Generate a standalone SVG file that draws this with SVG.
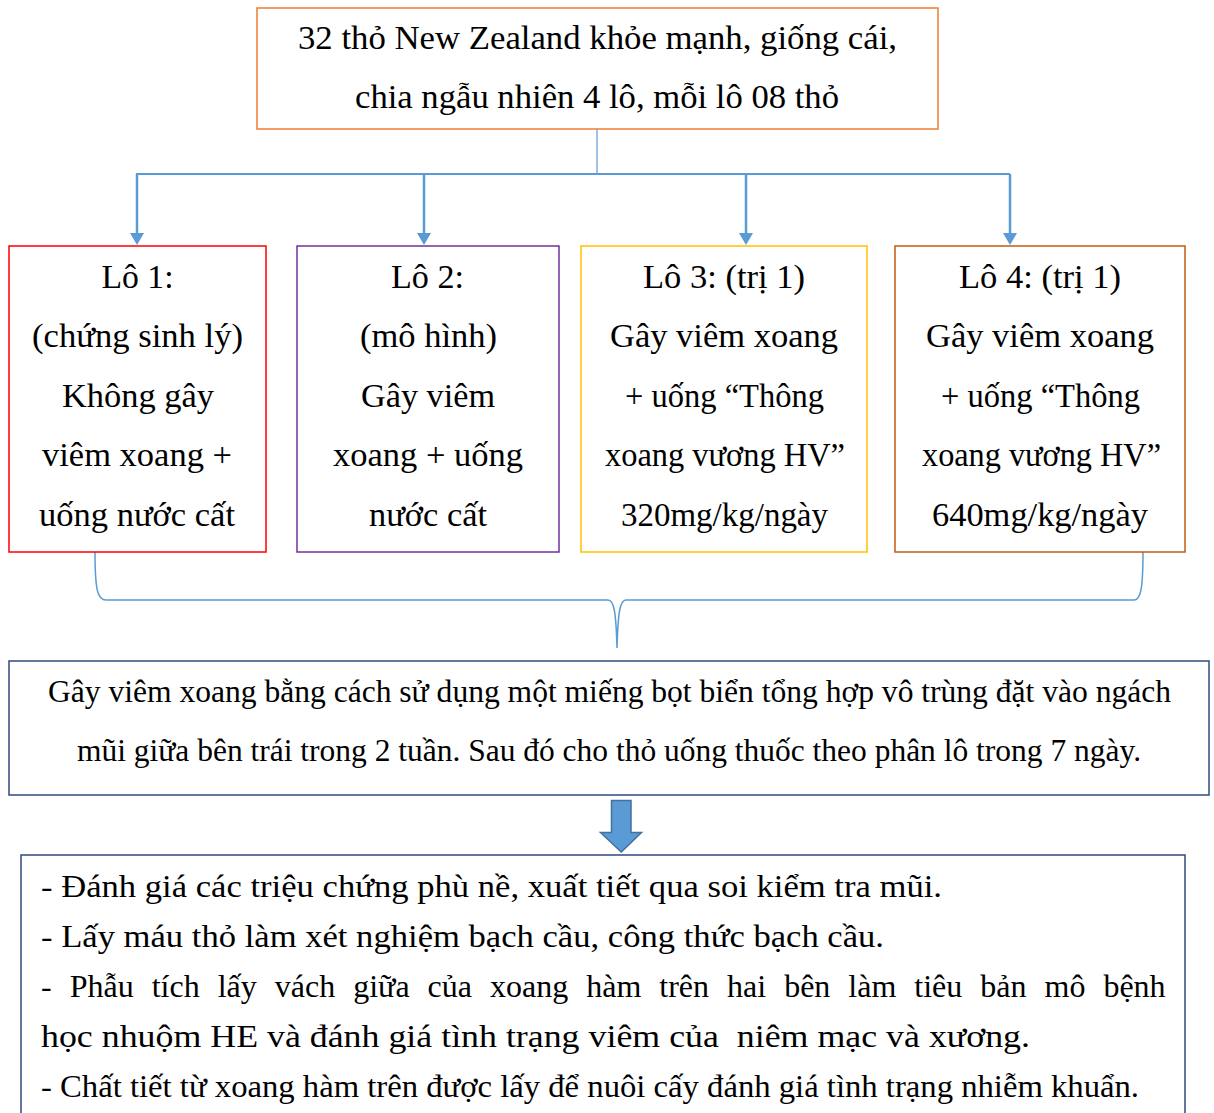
<svg xmlns="http://www.w3.org/2000/svg" width="1214" height="1113" viewBox="0 0 1214 1113">
<defs>
<style>
text{font-family:"Liberation Serif","Times New Roman",serif;font-size:32px;fill:#000}
.c{text-anchor:middle}
.b{font-size:33px}
.box{fill:#fff;stroke-width:1.5}
.conn{fill:none;stroke:#5B9BD5;stroke-width:2.5}
</style>
</defs>
<rect width="1214" height="1113" fill="#fff"/>

<g id="connectors">
<line x1="597" y1="129" x2="597" y2="174" stroke="#5B9BD5" stroke-width="1.2"/>
<line x1="136" y1="174" x2="1010" y2="174" stroke="#5B9BD5" stroke-width="2"/>
<line class="conn" x1="137" y1="174" x2="137" y2="233"/>
<path d="M130,233 L144,233 L137,245 Z" fill="#5B9BD5"/>
<line class="conn" x1="424" y1="174" x2="424" y2="233"/>
<path d="M417,233 L431,233 L424,245 Z" fill="#5B9BD5"/>
<line class="conn" x1="746" y1="174" x2="746" y2="233"/>
<path d="M739,233 L753,233 L746,245 Z" fill="#5B9BD5"/>
<line class="conn" x1="1010" y1="174" x2="1010" y2="233"/>
<path d="M1003,233 L1017,233 L1010,245 Z" fill="#5B9BD5"/>
<path d="M95,552 C95,592 98,600 106,600 L608,600 C614,600 616,612 617,648 C618,612 620,600 626,600 L1134,600 C1140,600 1143,592 1143,552" fill="none" stroke="#5B9BD5" stroke-width="1.5"/>
<path d="M611.5,800.5 L631,800.5 L631,832.5 L641.5,832.5 L621.3,852 L600.5,832.5 L611.5,832.5 Z" fill="#5B9BD5" stroke="#41719C" stroke-width="1.5"/>
</g>

<g id="node-top">
<rect class="box" x="257" y="8" width="681" height="121" stroke="#ED7D31"/>
<text class="c b" x="597.5" y="49" textLength="599" lengthAdjust="spacingAndGlyphs">32 thỏ New Zealand khỏe mạnh, giống cái,</text>
<text class="c b" x="597" y="108" textLength="484" lengthAdjust="spacingAndGlyphs">chia ngẫu nhiên 4 lô, mỗi lô 08 thỏ</text>
</g>

<g id="node-lo1">
<rect class="box" x="9" y="246" width="257" height="306" stroke="#FF0000"/>
<text class="c b" x="137.5" y="288" textLength="72" lengthAdjust="spacingAndGlyphs">Lô 1:</text>
<text class="c b" x="137.5" y="347" textLength="211" lengthAdjust="spacingAndGlyphs">(chứng sinh lý)</text>
<text class="c b" x="138" y="407" textLength="152" lengthAdjust="spacingAndGlyphs">Không gây</text>
<text class="c b" x="137" y="466" textLength="190" lengthAdjust="spacingAndGlyphs">viêm xoang +</text>
<text class="c b" x="137" y="526" textLength="196" lengthAdjust="spacingAndGlyphs">uống nước cất</text>
</g>

<g id="node-lo2">
<rect class="box" x="297" y="246" width="262" height="306" stroke="#7030A0"/>
<text class="c b" x="427.5" y="288" textLength="73" lengthAdjust="spacingAndGlyphs">Lô 2:</text>
<text class="c b" x="428.5" y="347" textLength="137" lengthAdjust="spacingAndGlyphs">(mô hình)</text>
<text class="c b" x="428" y="407" textLength="134" lengthAdjust="spacingAndGlyphs">Gây viêm</text>
<text class="c b" x="428" y="466" textLength="190" lengthAdjust="spacingAndGlyphs">xoang + uống</text>
<text class="c b" x="428" y="526" textLength="118" lengthAdjust="spacingAndGlyphs">nước cất</text>
</g>

<g id="node-lo3">
<rect class="box" x="581" y="246" width="286" height="306" stroke="#FFC000"/>
<text class="c b" x="724" y="288" textLength="162" lengthAdjust="spacingAndGlyphs">Lô 3: (trị 1)</text>
<text class="c b" x="724" y="347" textLength="228" lengthAdjust="spacingAndGlyphs">Gây viêm xoang</text>
<text class="c b" x="724.5" y="407" textLength="199" lengthAdjust="spacingAndGlyphs">+ uống “Thông</text>
<text class="c b" x="725" y="466" textLength="240" lengthAdjust="spacingAndGlyphs">xoang vương HV”</text>
<text class="c b" x="724.5" y="526" textLength="207" lengthAdjust="spacingAndGlyphs">320mg/kg/ngày</text>
</g>

<g id="node-lo4">
<rect class="box" x="895" y="246" width="290" height="306" stroke="#C55A11"/>
<text class="c b" x="1040" y="288" textLength="162" lengthAdjust="spacingAndGlyphs">Lô 4: (trị 1)</text>
<text class="c b" x="1040" y="347" textLength="228" lengthAdjust="spacingAndGlyphs">Gây viêm xoang</text>
<text class="c b" x="1040.5" y="407" textLength="199" lengthAdjust="spacingAndGlyphs">+ uống “Thông</text>
<text class="c b" x="1041.5" y="466" textLength="239" lengthAdjust="spacingAndGlyphs">xoang vương HV”</text>
<text class="c b" x="1040" y="526" textLength="216" lengthAdjust="spacingAndGlyphs">640mg/kg/ngày</text>
</g>

<g id="node-method">
<rect class="box" x="9" y="661" width="1200" height="134" stroke="#2F4A7F"/>
<text class="c" x="609.5" y="702" textLength="1123" lengthAdjust="spacingAndGlyphs">Gây viêm xoang bằng cách sử dụng một miếng bọt biển tổng hợp vô trùng đặt vào ngách</text>
<text class="c" x="609" y="761" textLength="1064" lengthAdjust="spacingAndGlyphs">mũi giữa bên trái trong 2 tuần. Sau đó cho thỏ uống thuốc theo phân lô trong 7 ngày.</text>
</g>

<g id="node-eval">
<rect class="box" x="21" y="855" width="1164" height="280" stroke="#2F4A7F"/>
<text x="41" y="897" textLength="901" lengthAdjust="spacingAndGlyphs">- Đánh giá các triệu chứng phù nề, xuất tiết qua soi kiểm tra mũi.</text>
<text x="41" y="947" textLength="843" lengthAdjust="spacingAndGlyphs">- Lấy máu thỏ làm xét nghiệm bạch cầu, công thức bạch cầu.</text>
<text x="41" y="997" word-spacing="10">- Phẫu tích lấy vách giữa của xoang hàm trên hai bên làm tiêu bản mô bệnh</text>
<text x="41" y="1047" xml:space="preserve" textLength="989" lengthAdjust="spacingAndGlyphs">học nhuộm HE và đánh giá tình trạng viêm của  niêm mạc và xương.</text>
<text x="41" y="1097" textLength="1098" lengthAdjust="spacingAndGlyphs">- Chất tiết từ xoang hàm trên được lấy để nuôi cấy đánh giá tình trạng nhiễm khuẩn.</text>
</g>
</svg>
